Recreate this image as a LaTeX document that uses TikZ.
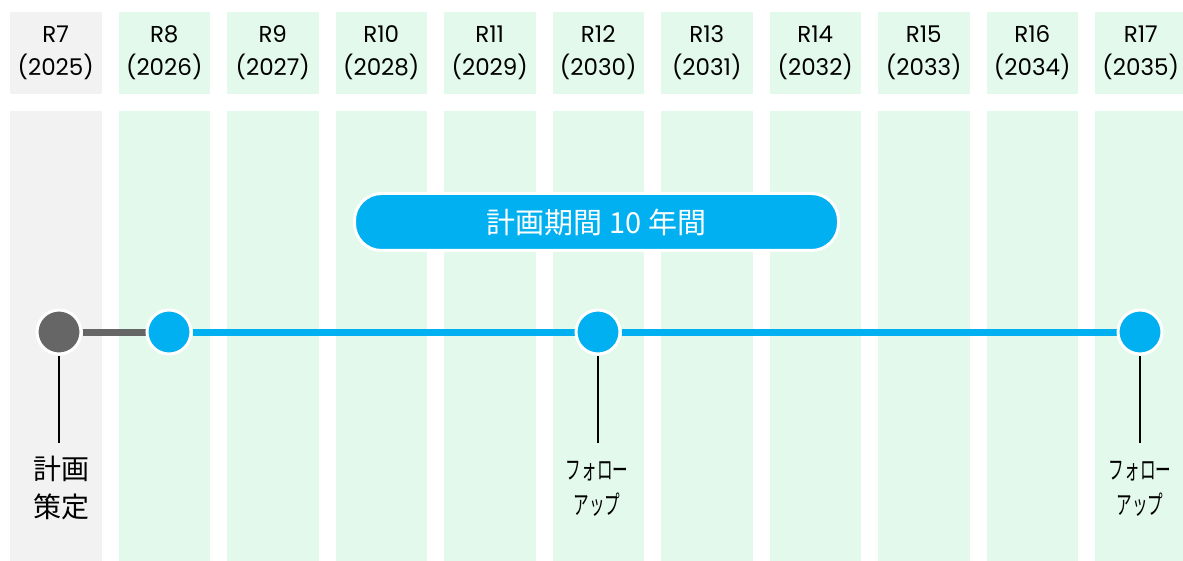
\documentclass[tikz,border=0pt]{standalone}
\usepackage{fontspec}
\setmainfont{Poppins}
\newfontfamily\jpfont{Noto Sans CJK JP}
\usepackage{graphicx}
\pgfdeclarelayer{back}
\pgfdeclarelayer{mid}
\pgfsetlayers{back,mid,main}
\definecolor{colgray}{HTML}{F2F2F2}
\definecolor{colgreen}{HTML}{E2F9EB}
\definecolor{tlblue}{HTML}{00B0F0}
\definecolor{tlgray}{HTML}{666666}
\tikzset{
  hdr/.style={align=center,font=\fontsize{23}{33}\selectfont,text=black,inner sep=0pt},
  dotnode/.style={circle,minimum size=44pt,inner sep=0pt,draw=white,line width=3pt},
  tlline/.style={line width=7pt},
  tick/.style={draw=black,line width=1.6pt},
  lbl/.style={align=center,inner sep=0pt,text=black},
  banner/.style={rounded corners=27pt,fill=tlblue,draw=white,line width=3pt,minimum width=484pt,minimum height=57pt,inner sep=0pt,text=white,font=\jpfont\fontsize{29}{32}\selectfont}
}
\newcommand{\narrowtxt}[1]{\scalebox{0.6}[1]{#1}}
\begin{document}
\begin{tikzpicture}[x=1pt,y=-1pt]
\useasboundingbox (0,0) rectangle (1183,561);
\begin{pgfonlayer}{back}
\begin{scope}
\clip (0,0) rectangle (1183,561);
\foreach \i/\lab in {0/{R7\\(2025)},1/{R8\\(2026)},2/{R9\\(2027)},3/{R10\\(2028)},4/{R11\\(2029)},5/{R12\\(2030)},6/{R13\\(2031)},7/{R14\\(2032)},8/{R15\\(2033)},9/{R16\\(2034)},10/{R17\\(2035)}}{
  \pgfmathsetmacro{\xl}{10+108.5*\i}
  \pgfmathsetmacro{\xr}{\xl+91.5}
  \pgfmathsetmacro{\xc}{\xl+45.75}
  \ifnum\i=0
    \fill[colgray] (\xl,12) rectangle (\xr,94);
    \fill[colgray] (\xl,111) rectangle (\xr,561);
  \else
    \fill[colgreen] (\xl,12) rectangle (\xr,94);
    \fill[colgreen] (\xl,111) rectangle (\xr,561);
  \fi
  \node[hdr] (h\i) at (\xc,53) {\lab};
}
\end{scope}
\end{pgfonlayer}

\node[banner] (plan) at (596.5,222) {計画期間 10 年間};

\node[dotnode,fill=tlgray] (c0) at (59,332) {};
\node[dotnode,fill=tlblue] (c1) at (169,332) {};
\node[dotnode,fill=tlblue] (c2) at (598,332) {};
\node[dotnode,fill=tlblue] (c3) at (1140,332) {};

\begin{pgfonlayer}{mid}
\draw[tlline,tlgray] (c0) -- (c1);
\draw[tlline,tlblue] (c1) -- (c2);
\draw[tlline,tlblue] (c2) -- (c3);
\end{pgfonlayer}

\coordinate (e0) at (59,443);
\coordinate (e2) at (598,443);
\coordinate (e3) at (1140,443);
\draw[tick] (c0.south) -- (e0);
\draw[tick] (c2.south) -- (e2);
\draw[tick] (c3.south) -- (e3);

\node[lbl,font=\jpfont\fontsize{28}{38}\selectfont] (l0) at (61,488) {計画\\策定};
\node[lbl,font=\jpfont\fontsize{26}{35}\selectfont] (l2) at (597,489) {\narrowtxt{フォロー}\\\narrowtxt{アップ}};
\node[lbl,font=\jpfont\fontsize{26}{35}\selectfont] (l3) at (1140,489) {\narrowtxt{フォロー}\\\narrowtxt{アップ}};
\end{tikzpicture}
\end{document}
